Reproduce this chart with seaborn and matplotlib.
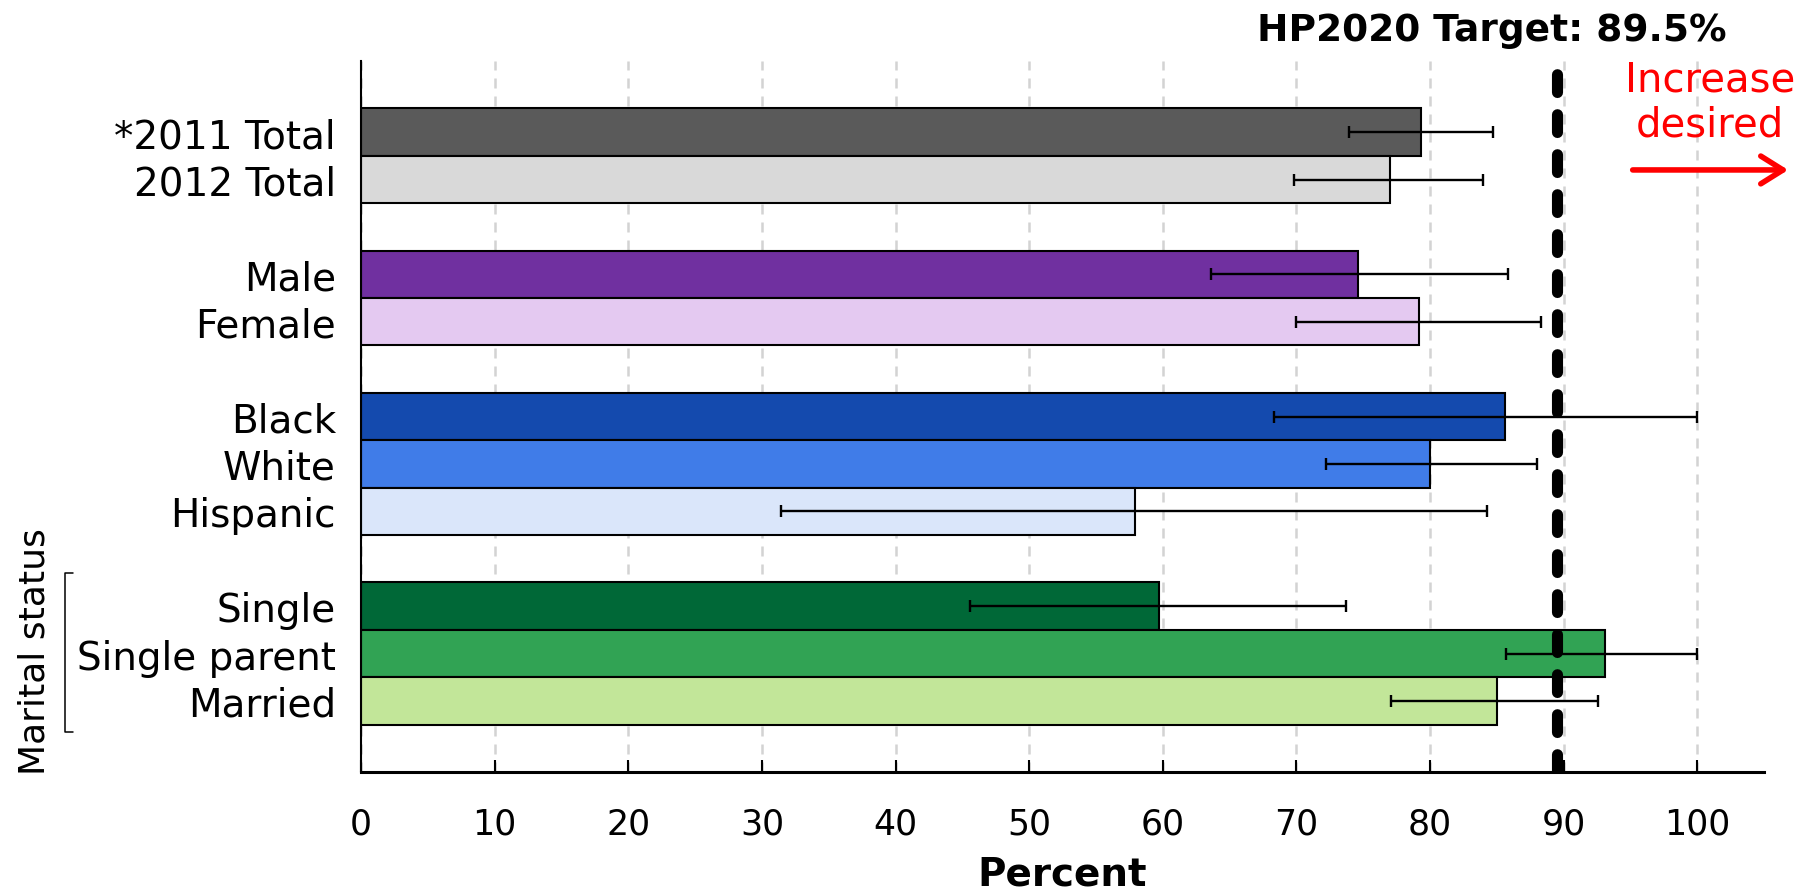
import matplotlib
matplotlib.use("Agg")
import matplotlib.pyplot as plt
import matplotlib.transforms as mtransforms
import numpy as np
import pandas as pd
import seaborn as sns

# groups of bars (a blank slot is left between groups)
groups = [
    ["*2011 Total", "2012 Total"],
    ["Male", "Female"],
    ["Black", "White", "Hispanic"],
    ["Single", "Single parent", "Married"],
]
labels = [l for g in groups for l in g]
values = [79.3, 77.0, 74.6, 79.2, 85.6, 80.0, 57.9, 59.7, 93.1, 85.0]
ci_low = [73.9, 69.8, 63.6, 70.0, 68.3, 72.2, 31.4, 45.6, 85.7, 77.1]
ci_high = [84.7, 84.0, 85.8, 88.3, 100.0, 88.0, 84.3, 73.7, 100.0, 92.6]
colors = ["#5a5a5a", "#d9d9d9", "#7030a0", "#e4c9f1", "#144aae",
          "#407ce8", "#dae6fa", "#006837", "#31a354", "#c2e699"]
target = 89.5
xticks = list(range(0, 101, 10))

# category order with blank spacer slots between groups
order = []
for i, g in enumerate(groups):
    if i > 0:
        order.append(" " * i)
    order.extend(g)

df = pd.DataFrame({"label": labels, "value": values})

sns.set_theme(style="white")
plt.rcParams["font.family"] = ["DejaVu Sans"]
plt.rcParams["text.color"] = "black"
plt.rcParams["axes.labelcolor"] = "black"
plt.rcParams["xtick.color"] = "black"
plt.rcParams["ytick.color"] = "black"

fig = plt.figure(figsize=(18.08, 8.95), dpi=100)
ax = fig.add_axes([0.1997, 0.1363, 0.776, 0.7944])

sns.barplot(data=df, x="value", y="label", order=order, hue="label",
            palette=dict(zip(labels, colors)), dodge=False, width=1.0,
            saturation=1, edgecolor="black", linewidth=1.5, errorbar=None,
            legend=False, orient="h", ax=ax, zorder=2)

ypos = [order.index(l) for l in labels]
v = np.array(values)
ax.errorbar(v, ypos, xerr=[v - np.array(ci_low), np.array(ci_high) - v],
            fmt="none", ecolor="black", elinewidth=1.7, capsize=4.5,
            capthick=1.7, zorder=4)

tl = ax.axvline(target, color="black", linewidth=8, zorder=5,
                dash_capstyle="round")
tl.set_dashes((1.6, 2.0))

ax.set_xlim(0, 105)
ax.set_ylim(len(order) - 0.5 + 1, -1.5)
ax.set_xticks(xticks)
ax.set_xticklabels([str(t) for t in xticks], fontsize=25)
ax.set_yticks(range(len(order)))
ax.set_yticklabels(order, fontsize=28)
ax.tick_params(axis="y", length=0, pad=18)
ax.tick_params(axis="x", direction="in", length=9, width=1.5, color="black",
               pad=25, bottom=True)
ax.set_xlabel("Percent", fontsize=28, fontweight="bold", labelpad=10)
ax.set_ylabel("")

ax.set_axisbelow(True)
ax.xaxis.grid(True, linestyle=(0, (4, 3.2)), color="#d3d3d3", linewidth=1.8)
ax.yaxis.grid(False)
for s in ["top", "right"]:
    ax.spines[s].set_visible(False)
ax.spines["left"].set_color("black")
ax.spines["left"].set_linewidth(1.5)
ax.spines["bottom"].set_color("black")
ax.spines["bottom"].set_linewidth(2.2)

# marital status bracket
trans = mtransforms.blended_transform_factory(ax.transAxes, ax.transData)
ax.plot([-0.205, -0.211, -0.211, -0.205], [9.3, 9.3, 12.66, 12.66],
        color="black", linewidth=1.1, transform=trans, clip_on=False)
ax.text(-0.233, 10.93, "Marital status", rotation=90, fontsize=26,
        ha="center", va="center", transform=trans)

fig.text(0.825, 0.965, "HP2020 Target: 89.5%", fontsize=27,
         fontweight="bold", ha="center", va="center")
fig.text(0.9458, 0.885, "Increase\ndesired", fontsize=29, color="red",
         ha="center", va="center", linespacing=1.15)
fig.add_artist(matplotlib.patches.FancyArrowPatch(
    (0.9015, 0.809), (0.9906, 0.809), transform=fig.transFigure,
    arrowstyle="->,head_length=0.8,head_width=0.5", color="red",
    linewidth=4, mutation_scale=20))

fig.savefig("out.png", dpi=100)
